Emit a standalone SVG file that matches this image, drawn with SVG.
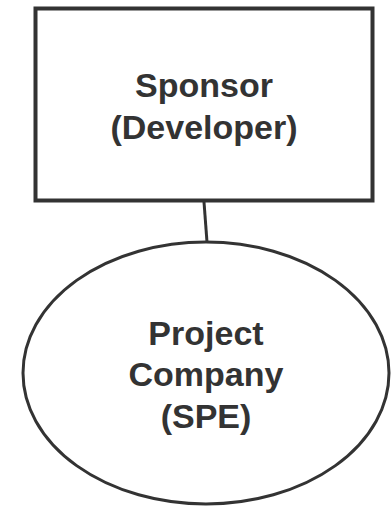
<svg xmlns="http://www.w3.org/2000/svg" width="392" height="506" viewBox="0 0 392 506">
  <style>
    .shape { fill: #ffffff; stroke: #333333; }
    .label { font-family: "Liberation Sans", Arial, sans-serif; font-weight: bold; font-size: 34px; fill: #333333; text-anchor: middle; }
    .link { stroke: #333333; stroke-width: 3; fill: none; }
  </style>
  <rect width="392" height="506" fill="#ffffff"/>
  <g id="connectors">
    <line class="link" x1="204" y1="202" x2="207" y2="242"/>
  </g>
  <g id="sponsor">
    <rect class="shape" x="35.5" y="8.5" width="337" height="192" stroke-width="4"/>
    <text class="label" x="204" y="97">Sponsor</text>
    <text class="label" x="204" y="139">(Developer)</text>
  </g>
  <g id="project-company">
    <ellipse class="shape" cx="206" cy="373" rx="183" ry="131" stroke-width="3"/>
    <text class="label" x="206" y="345">Project</text>
    <text class="label" x="206" y="386">Company</text>
    <text class="label" x="206" y="428">(SPE)</text>
  </g>
</svg>
